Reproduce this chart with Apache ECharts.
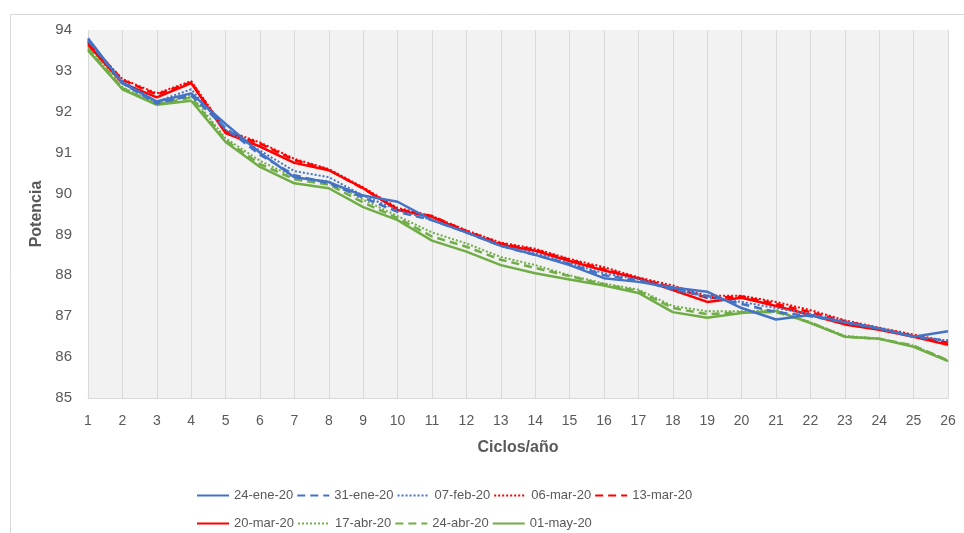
<!DOCTYPE html>
<html>
<head>
<meta charset="utf-8">
<script src="https://cdn.jsdelivr.net/npm/echarts@6/dist/echarts.min.js"></script>
<style>html,body{margin:0;padding:0;background:#fff;}#c{width:964px;height:533px;}</style>
</head>
<body>
<div id="c"></div>
<script>
const categories = ['1','2','3','4','5','6','7','8','9','10','11','12','13','14','15','16','17','18','19','20','21','22','23','24','25','26'];
const yTicks = { min: 85, max: 94, interval: 1 };

const s24ene = [93.8,92.7,92.25,92.45,91.7,91.0,90.4,90.28,89.95,89.8,89.35,89.05,88.72,88.5,88.25,87.93,87.84,87.7,87.6,87.2,86.92,87.03,86.85,86.7,86.5,86.63];
const s31ene = [93.75,92.7,92.2,92.4,91.6,90.95,90.45,90.25,89.9,89.55,89.35,89.05,88.72,88.5,88.28,88.0,87.88,87.65,87.5,87.3,87.1,87.0,86.85,86.7,86.5,86.4];
const s07feb = [93.75,92.75,92.25,92.55,91.55,91.05,90.55,90.4,89.95,89.6,89.35,89.05,88.72,88.55,88.3,88.05,87.9,87.7,87.45,87.35,87.2,87.05,86.88,86.7,86.52,86.4];
const s06mar = [93.7,92.8,92.45,92.75,91.55,91.25,90.85,90.6,90.15,89.65,89.45,89.1,88.8,88.65,88.4,88.2,87.95,87.75,87.5,87.5,87.35,87.15,86.9,86.72,86.55,86.38];
const s13mar = [93.7,92.78,92.42,92.72,91.52,91.22,90.82,90.58,90.12,89.62,89.45,89.08,88.78,88.62,88.38,88.15,87.93,87.7,87.45,87.48,87.3,87.1,86.88,86.7,86.52,86.35];
const s20mar = [93.65,92.7,92.35,92.7,91.48,91.15,90.75,90.57,90.13,89.6,89.43,89.05,88.75,88.6,88.35,88.12,87.93,87.64,87.35,87.45,87.25,87.03,86.8,86.67,86.5,86.3];
const s17abr = [93.6,92.6,92.2,92.4,91.35,90.8,90.4,90.3,89.85,89.45,89.05,88.78,88.45,88.25,88.0,87.8,87.65,87.25,87.12,87.12,87.15,86.85,86.52,86.45,86.28,85.92];
const s24abr = [93.55,92.58,92.18,92.35,91.3,90.72,90.35,90.22,89.78,89.4,88.95,88.7,88.38,88.18,87.98,87.78,87.62,87.2,87.05,87.1,87.1,86.85,86.5,86.45,86.28,85.92];
const s01may = [93.5,92.55,92.17,92.27,91.26,90.65,90.25,90.13,89.67,89.35,88.85,88.58,88.25,88.05,87.9,87.75,87.57,87.1,86.96,87.08,87.13,86.83,86.5,86.45,86.25,85.9];

const names = ['24-ene-20','31-ene-20','07-feb-20','06-mar-20','13-mar-20','20-mar-20','17-abr-20','24-abr-20','01-may-20'];
const dataSets = [s24ene,s31ene,s07feb,s06mar,s13mar,s20mar,s17abr,s24abr,s01may];
const BLUE = '#4472C4', RED = '#FF0000', GREEN = '#70AD47';
const colors = [BLUE,BLUE,BLUE,RED,RED,RED,GREEN,GREEN,GREEN];
const DASH = [8,5], DOT = [2,2];
const types = ['solid',DASH,DOT,DOT,DASH,'solid',DOT,DASH,'solid'];
const widths = [2.5,2.5,2,2,2.5,2.5,2,2.5,2.5];

const series = names.map((n,i)=>({
  name: n, type: 'line', data: dataSets[i], symbol: 'none', showSymbol: false,
  lineStyle: { color: colors[i], width: widths[i], type: types[i] },
  itemStyle: { color: colors[i] },
  z: 10 - i
}));

const font = 'Liberation Sans, Arial, sans-serif';
const legendCommon = {
  itemWidth: 32, itemHeight: 10, itemGap: 3,
  itemStyle: { opacity: 0 },
  textStyle: { fontFamily: font, fontSize: 13, color: '#595959' }
};
const chart = echarts.init(document.getElementById('c'), null, {renderer:'canvas'});
chart.setOption({
  animation: false,
  backgroundColor: '#fff',
  graphic: [{ type: 'rect', left: 8, top: 12, shape: { width: 970, height: 540 }, style: { fill: 'none', stroke: '#d9d9d9', lineWidth: 1 }, silent: true }],
  grid: { left: 88, right: 16, top: 30, bottom: 135, show: true, backgroundColor: '#f2f2f2', borderWidth: 0 },
  legend: [
    Object.assign({ data: names.slice(0,5), left: 191, top: 484 }, legendCommon),
    Object.assign({ data: names.slice(5), left: 191, top: 512 }, legendCommon)
  ],
  xAxis: {
    type: 'category', data: categories, boundaryGap: false,
    name: 'Ciclos/año', nameLocation: 'middle', nameGap: 42,
    nameTextStyle: { fontFamily: font, fontSize: 16, fontWeight: 'bold', color: '#595959' },
    axisLine: { show: true, lineStyle: { color: '#d9d9d9', width: 1 } },
    axisTick: { show: false },
    axisLabel: { fontFamily: font, fontSize: 14, color: '#595959', margin: 16 },
    splitLine: { show: true, lineStyle: { color: '#d9d9d9', width: 1 } }
  },
  yAxis: {
    type: 'value', min: yTicks.min, max: yTicks.max, interval: yTicks.interval,
    name: 'Potencia', nameLocation: 'middle', nameGap: 40,
    nameTextStyle: { fontFamily: font, fontSize: 16, fontWeight: 'bold', color: '#595959' },
    axisLine: { show: false }, axisTick: { show: false },
    axisLabel: { fontFamily: font, fontSize: 15, color: '#595959', margin: 16 },
    splitLine: { show: false }
  },
  series: series
});
</script>
</body>
</html>
